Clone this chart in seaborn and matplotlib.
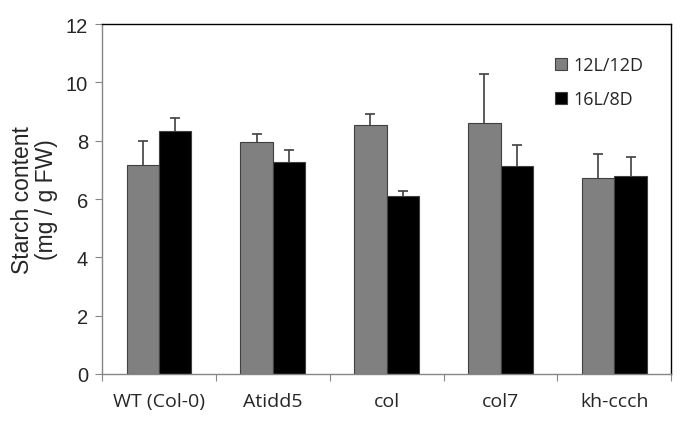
"""Starch content bar chart"""
import numpy as np
import pandas as pd
import matplotlib
matplotlib.use('Agg')
import matplotlib.pyplot as plt
from matplotlib.ticker import FixedLocator
import seaborn as sns

genotypes = ['WT (Col-0)', 'Atidd5', 'col', 'col7', 'kh-ccch']
conditions = ['12L/12D', '16L/8D']
starch_12l = [7.18, 7.96, 8.54, 8.60, 6.72]
starch_16l = [8.34, 7.28, 6.11, 7.14, 6.79]
err_12l = [0.82, 0.28, 0.39, 1.70, 0.81]
err_16l = [0.45, 0.39, 0.15, 0.72, 0.64]

df = pd.DataFrame({
    'genotype': genotypes * 2,
    'condition': [conditions[0]] * 5 + [conditions[1]] * 5,
    'starch': starch_12l + starch_16l,
    'err': err_12l + err_16l,
})

sns.set_style('white')
plt.rcParams['font.family'] = ['Liberation Sans', 'DejaVu Sans']

fig = plt.figure(figsize=(6.85, 4.27), dpi=100)
ax = fig.add_axes([0.149, 0.122, 0.831, 0.819])

sns.barplot(data=df, x='genotype', y='starch', hue='condition',
            palette=['#808080', '#000000'], width=0.57, gap=0,
            errorbar=None, edgecolor='#404040', linewidth=0.8,
            saturation=1, ax=ax)

# error bars (upper only), placed at bar centres
bars = [p for p in ax.patches if p.get_height() > 0][:10]
for p, (_, row) in zip(bars, df.iterrows()):
    xc = p.get_x() + p.get_width() / 2
    eb = ax.errorbar(xc, row['starch'], yerr=[[0], [row['err']]], fmt='none',
                     ecolor='#404040', elinewidth=1.2, capsize=3.5,
                     capthick=1.2)
    eb[1][0].set_visible(False)  # hide lower cap

ax.set_ylim(0, 12)
ax.set_xlim(-0.5, 4.5)
ax.set_yticks(np.arange(0, 13, 2))
ax.tick_params(axis='y', labelsize=14.5, length=5, width=0.8,
               color='#868686', pad=5, left=True)
ax.set_xticks(range(5))
ax.set_xticklabels(genotypes, fontsize=14, family='Open Sans')
ax.tick_params(axis='x', which='major', length=0, pad=13)
ax.xaxis.set_minor_locator(FixedLocator(np.arange(-0.5, 5, 1)))
ax.tick_params(axis='x', which='minor', length=5, width=0.8,
               color='#868686', bottom=True)

for side in ['left', 'bottom']:
    ax.spines[side].set_color('#868686')
    ax.spines[side].set_linewidth(1.0)
for side in ['top', 'right']:
    ax.spines[side].set_color('#000000')
    ax.spines[side].set_linewidth(1.0)
    ax.spines[side].set_visible(True)

ax.set_xlabel('')
ax.set_ylabel('Starch content\n(mg / g FW)', fontsize=16.5, labelpad=6,
              linespacing=1.05)

leg = ax.legend(loc='upper left', bbox_to_anchor=(0.768, 0.955), frameon=False,
                prop={'family': 'Open Sans', 'size': 13},
                handlelength=0.65, handleheight=0.65, handletextpad=0.35,
                labelspacing=0.9)
for h in leg.legend_handles:
    h.set_edgecolor('#404040')

plt.savefig('out.png', dpi=100)
plt.close()
